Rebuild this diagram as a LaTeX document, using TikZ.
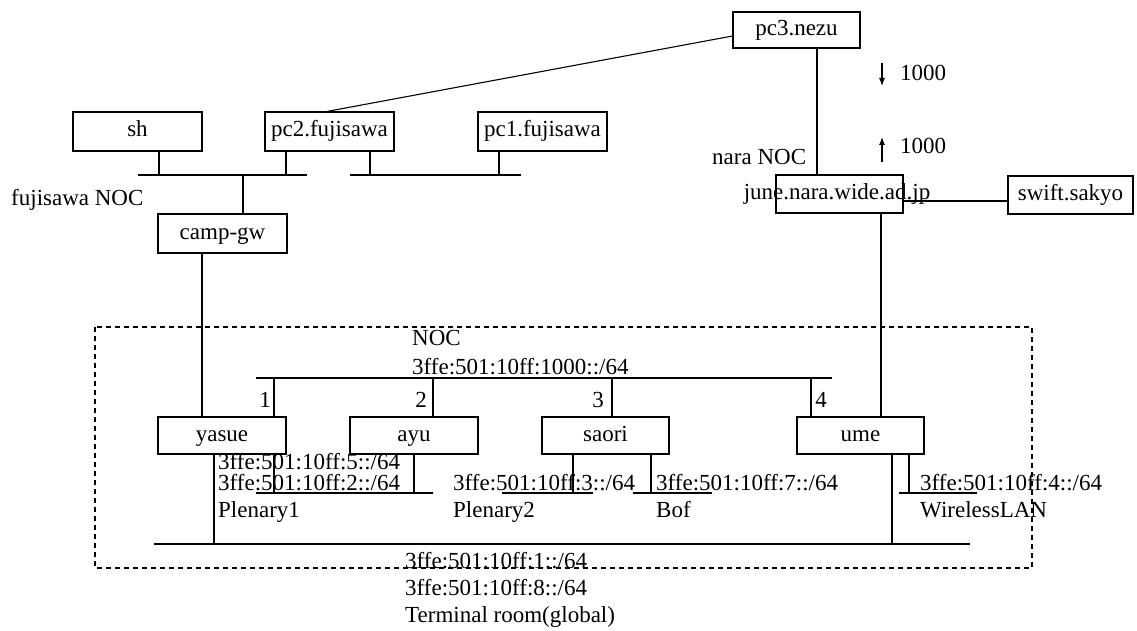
\documentclass[tikz,border=0pt]{standalone}
\usepackage{fontspec}
\setmainfont{Liberation Serif}
\usetikzlibrary{arrows.meta}
\tikzset{
  every node/.style={font=\fontsize{23}{27}\selectfont},
  hostbox/.style={draw, line width=1.1pt, inner sep=0pt, text height=16pt, text depth=5pt},
  lbl/.style={anchor=base west, inner sep=0pt},
  numlbl/.style={anchor=base, inner sep=0pt},
  wire/.style={line width=1.1pt},
  noccage/.style={line width=1.1pt, dash pattern=on 5pt off 4pt}
}
\begin{document}
\begin{tikzpicture}[x=1pt,y=-1pt]
\useasboundingbox (0,0) rectangle (1137,631);

% boxes
\node[hostbox, minimum width=127pt, minimum height=36pt] (pc3) at (796.5,30) {pc3.nezu};
\node[hostbox, minimum width=129pt, minimum height=39pt] (sh) at (137.5,131.5) {sh};
\node[hostbox, minimum width=129pt, minimum height=39pt] (pc2) at (329.5,131.5) {pc2.fujisawa};
\node[hostbox, minimum width=129pt, minimum height=39pt] (pc1) at (542.5,131.5) {pc1.fujisawa};
\node[hostbox, minimum width=129pt, minimum height=39pt] (camp) at (222.5,233.5) {camp-gw};
\node[hostbox, minimum width=127pt, minimum height=38pt] (june) at (839.5,194) {};
\node[inner sep=0pt] (junetext) at (837,194) {june.nara.wide.ad.jp};
\node[hostbox, minimum width=125pt, minimum height=38pt] (swift) at (1070.5,195) {swift.sakyo};
\node[hostbox, minimum width=128pt, minimum height=37pt] (yasue) at (222,435.5) {yasue};
\node[hostbox, minimum width=128pt, minimum height=37pt] (ayu) at (414,435.5) {ayu};
\node[hostbox, minimum width=127pt, minimum height=37pt] (saori) at (605.5,435.5) {saori};
\node[hostbox, minimum width=127pt, minimum height=37pt] (ume) at (860.5,435.5) {ume};

% dashed NOC area
\draw[noccage] (95,327) rectangle (1032,568);

% bus coordinates
\coordinate (b1l) at (138,175); \coordinate (b1r) at (307,175);
\coordinate (b2l) at (350,175); \coordinate (b2r) at (521,175);
\coordinate (s1) at (159,175); \coordinate (s2) at (286,175);
\coordinate (s3) at (370,175); \coordinate (s4) at (499,175);
\coordinate (b1c) at (243,175);

\coordinate (nocl) at (256,378); \coordinate (nocr) at (832,378);
\coordinate (n1) at (274,378); \coordinate (n2) at (433,378);
\coordinate (n3) at (612,378); \coordinate (n4) at (811,378);

\coordinate (bbl) at (154,544); \coordinate (bbr) at (970,544);
\coordinate (bb1) at (214,544); \coordinate (bb2) at (892,544);

\coordinate (p1l) at (256,493); \coordinate (p1r) at (433,493);
\coordinate (p1a) at (274,493); \coordinate (p1b) at (414,493);
\coordinate (p2l) at (502,493); \coordinate (p2r) at (593,493); \coordinate (p2a) at (573,493);
\coordinate (p3l) at (633,493); \coordinate (p3r) at (712,493); \coordinate (p3a) at (651,493);
\coordinate (p4l) at (899,493); \coordinate (p4r) at (977,493); \coordinate (p4a) at (909,493);

\coordinate (xa) at (817,0); \coordinate (xb) at (881,0); \coordinate (xc) at (202,0);

% fujisawa buses
\draw[wire] (b1l) -- (b1r);
\draw[wire] (b2l) -- (b2r);
\draw[wire] (sh.south -| s1) -- (s1);
\draw[wire] (pc2.south -| s2) -- (s2);
\draw[wire] (pc2.south -| s3) -- (s3);
\draw[wire] (pc1.south -| s4) -- (s4);
\draw[wire] (b1c) -- (camp.north -| b1c);

% long links
\draw[wire] (pc2.north -| 327,0) -- ([yshift=-6pt]pc3.west);
\draw[wire] (pc3.south -| xa) -- (june.north -| xa);
\draw[wire] ([yshift=-7pt]june.east) -- ([yshift=-7pt]june.east -| swift.west);
\draw[wire] (june.south -| xb) -- (ume.north -| xb);
\draw[wire] (camp.south -| xc) -- (yasue.north -| xc);

% NOC bus
\draw[wire] (nocl) -- (nocr);
\draw[wire] (n1) -- (yasue.north -| n1);
\draw[wire] (n2) -- (ayu.north -| n2);
\draw[wire] (n3) -- (saori.north -| n3);
\draw[wire] (n4) -- (ume.north -| n4);

% lower segments
\draw[wire] (p1l) -- (p1r);
\draw[wire] (yasue.south -| p1a) -- (p1a);
\draw[wire] (ayu.south -| p1b) -- (p1b);
\draw[wire] (p2l) -- (p2r);
\draw[wire] (saori.south -| p2a) -- (p2a);
\draw[wire] (p3l) -- (p3r);
\draw[wire] (saori.south -| p3a) -- (p3a);
\draw[wire] (p4l) -- (p4r);
\draw[wire] (ume.south -| p4a) -- (p4a);

% terminal room bus
\draw[wire] (bbl) -- (bbr);
\draw[wire] (yasue.south -| bb1) -- (bb1);
\draw[wire] (ume.south -| bb2) -- (bb2);

% arrows
\coordinate (a1s) at (882,63); \coordinate (a1e) at (882,86);
\coordinate (a2s) at (882,162); \coordinate (a2e) at (882,137);
\draw[line width=1.1pt, -{Latex[length=8pt,width=6pt]}] (a1s) -- (a1e);
\draw[line width=1.1pt, -{Latex[length=8pt,width=6pt]}] (a2s) -- (a2e);
\node[lbl] (t1000a) at (900,80.5) {1000};
\node[lbl] (t1000b) at (900,153.5) {1000};

% labels
\node[lbl] (lfuji) at (11,205.5) {fujisawa NOC};
\node[lbl] (lnara) at (712,164.5) {nara NOC};
\node[lbl] (lnoc) at (412,345.5) {NOC};
\node[lbl] (lnocnet) at (412,374.5) {3ffe:501:10ff:1000::/64};
\node[numlbl] (l1) at (265,407.5) {1};
\node[numlbl] (l2) at (421,407.5) {2};
\node[numlbl] (l3) at (598,407.5) {3};
\node[numlbl] (l4) at (821,407.5) {4};

\node[lbl] (n5) at (218,469.5) {3ffe:501:10ff:5::/64};
\node[lbl] (n2n) at (218,490.5) {3ffe:501:10ff:2::/64};
\node[lbl] (pl1) at (218,517.5) {Plenary1};
\node[lbl] (n3n) at (453,490.5) {3ffe:501:10ff:3::/64};
\node[lbl] (pl2) at (453,517.5) {Plenary2};
\node[lbl] (n7) at (656,490.5) {3ffe:501:10ff:7::/64};
\node[lbl] (bof) at (656,517.5) {Bof};
\node[lbl] (n4n) at (920,490.5) {3ffe:501:10ff:4::/64};
\node[lbl] (wl) at (920,517.5) {WirelessLAN};

\node[lbl] (n1n) at (405,568.5) {3ffe:501:10ff:1::/64};
\node[lbl] (n8) at (405,595.5) {3ffe:501:10ff:8::/64};
\node[lbl] (term) at (405,622.5) {Terminal room(global)};
\end{tikzpicture}
\end{document}
